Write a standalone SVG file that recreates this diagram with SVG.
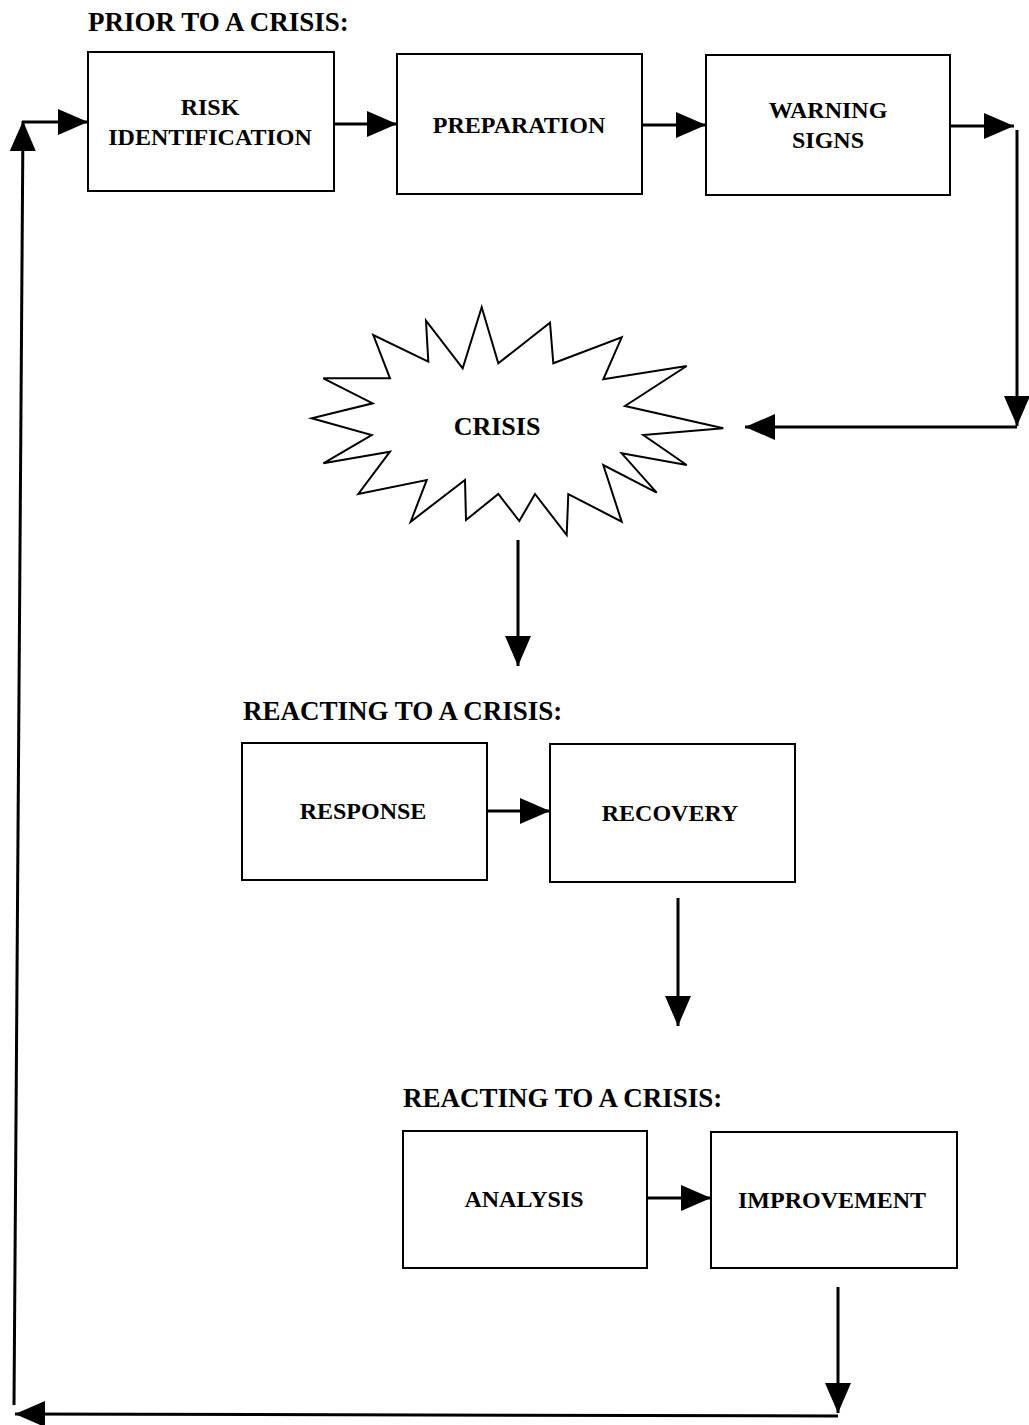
<svg xmlns="http://www.w3.org/2000/svg" width="1029" height="1425" viewBox="0 0 1029 1425">
<style>
.box{fill:#fff;stroke:#000;stroke-width:2}
.lbl{font-family:"Liberation Serif","Times New Roman",serif;font-weight:bold;font-size:24px;fill:#000;text-anchor:middle}
.ttl{font-family:"Liberation Serif","Times New Roman",serif;font-weight:bold;font-size:27px;fill:#000}
.con{fill:none;stroke:#000;stroke-width:3;marker-end:url(#ah)}
</style>
<defs>
<marker id="ah" markerUnits="userSpaceOnUse" markerWidth="32" markerHeight="28" refX="30" refY="13" orient="auto">
<path d="M0,0 L30,13 L0,26 Z" fill="#000"/>
</marker>
</defs>
<rect width="1029" height="1425" fill="#fff"/>
<text class="ttl" x="88" y="31">PRIOR TO A CRISIS:</text>
<text class="ttl" x="243" y="720">REACTING TO A CRISIS:</text>
<text class="ttl" x="403" y="1107">REACTING TO A CRISIS:</text>
<g id="risk"><rect class="box" x="88" y="52" width="246" height="139"/><text class="lbl" x="210" y="115">RISK</text><text class="lbl" x="210" y="145">IDENTIFICATION</text></g>
<g id="preparation"><rect class="box" x="397" y="54" width="245" height="140"/><text class="lbl" x="519" y="133">PREPARATION</text></g>
<g id="warning"><rect class="box" x="706" y="55" width="244" height="140"/><text class="lbl" x="828" y="118">WARNING</text><text class="lbl" x="828" y="148">SIGNS</text></g>
<g id="crisis"><path fill="#fff" stroke="#000" stroke-width="2" stroke-linejoin="miter" d="M481.7,307.3 L498.3,363.3 L550,322.7 L553.3,363.3 L621.7,337.3 L603.3,379.3 L686.7,366 L625,406 L723.3,428.3 L643.3,435 L686.7,465 L621.7,453.3 L656.7,492.7 L603.3,465 L621.7,521.7 L568.3,494 L566.7,535 L535,494 L519.3,521 L498.3,494 L466,520 L465,480 L410.7,521.7 L426.7,480 L358.3,494 L390,451.7 L323.3,463.3 L371.7,435 L311.7,418.3 L372.7,403.3 L323.3,378.3 L390,378.3 L373.3,335 L428.3,361.7 L426,320.7 L462.7,368.3 Z"/><text class="lbl" x="497" y="435" style="font-size:26px">CRISIS</text></g>
<g id="response"><rect class="box" x="242" y="743" width="245" height="137"/><text class="lbl" x="363" y="819">RESPONSE</text></g>
<g id="recovery"><rect class="box" x="550" y="744" width="245" height="138"/><text class="lbl" x="670" y="821">RECOVERY</text></g>
<g id="analysis"><rect class="box" x="403" y="1131" width="244" height="137"/><text class="lbl" x="524" y="1207">ANALYSIS</text></g>
<g id="improvement"><rect class="box" x="711" y="1132" width="246" height="136"/><text class="lbl" x="832" y="1208">IMPROVEMENT</text></g>
<g id="connectors">
<line class="con" x1="334" y1="124" x2="397" y2="124"/>
<line class="con" x1="642" y1="125" x2="706" y2="125"/>
<line class="con" x1="950" y1="126" x2="1014" y2="126"/>
<line class="con" x1="1017" y1="130" x2="1017" y2="426"/>
<line class="con" x1="1017" y1="427" x2="745" y2="427"/>
<line class="con" x1="518" y1="540" x2="518" y2="666"/>
<line class="con" x1="487" y1="811" x2="550" y2="811"/>
<line class="con" x1="678" y1="898" x2="678" y2="1026"/>
<line class="con" x1="647" y1="1198" x2="711" y2="1198"/>
<line class="con" x1="838" y1="1287" x2="838" y2="1413"/>
<line class="con" x1="838" y1="1416" x2="15" y2="1414"/>
<line class="con" x1="14" y1="1405" x2="23" y2="121"/>
<line class="con" x1="22" y1="122" x2="88" y2="122"/>
</g>
</svg>
